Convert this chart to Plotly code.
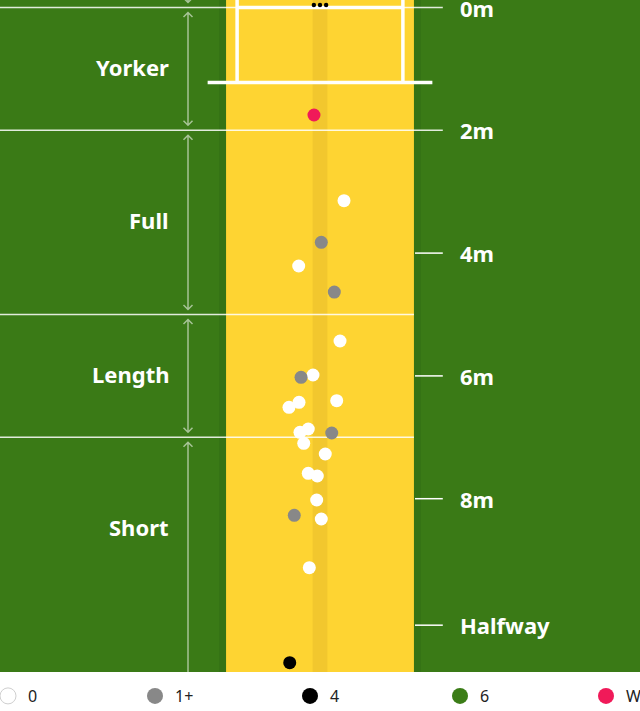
import plotly.graph_objects as go

# ---------------- data (metres: x = lateral from middle stump, y = distance from stumps)
white_x = [0.391, -0.347, 0.326, -0.114, 0.272, -0.342, -0.505, -0.191, -0.326, -0.265,
           0.086, -0.191, -0.044, -0.054, 0.021, -0.174]
white_y = [3.146, 4.210, 5.432, 5.985, 6.404, 6.430, 6.511, 6.865, 6.919, 7.098,
           7.272, 7.586, 7.630, 8.021, 8.331, 9.124]
grey_x = [0.021, 0.233, -0.309, 0.191, -0.419]
grey_y = [3.824, 4.634, 6.023, 6.930, 8.270]
four_x = [-0.493]
four_y = [10.671]
six_x = []
six_y = []
wkt_x = [-0.098]
wkt_y = [1.751]

tick_vals = [0, 2, 4, 6, 8, 10.06]
tick_text = ["0m", "2m", "4m", "6m", "8m", "Halfway"]
zone_names = ["Yorker", "Full", "Length", "Short"]
zone_bounds = [0, 2, 5, 7, 11.5]

legend_names = ["0", "1+", "4", "6", "W"]
legend_colors = ["#ffffff", "#888888", "#000000", "#3b7d17", "#f01a59"]

# ---------------- styling / geometry
GREEN = "#3a7a16"
YELLOW = "#fed432"
STRIP = "#f2c72e"
PX = 61.4  # px per metre
XR = [-320 / PX, 320 / PX]
YR = [(672 - 7.5) / PX, -7.5 / PX]

fig = go.Figure()

series = [(white_x, white_y), (grey_x, grey_y), (four_x, four_y), (six_x, six_y), (wkt_x, wkt_y)]
for (xs, ys), name, col in zip(series, legend_names, legend_colors):
    fig.add_trace(go.Scatter(x=xs, y=ys, mode="markers", showlegend=False, hoverinfo="skip",
                             marker=dict(size=13, color=col, line=dict(width=0))))

# legend-only entries, one legend each so they can be spaced evenly
leg_px = [8, 155, 310, 460, 606]
for i, (name, col) in enumerate(zip(legend_names, legend_colors)):
    lid = "legend" if i == 0 else f"legend{i+1}"
    fig.add_trace(go.Scatter(x=[None], y=[None], mode="markers", name=name, legend=lid,
                             marker=dict(size=16, color=col,
                                         line=dict(width=1 if i == 0 else 0, color="#cfcfcf"))))

shapes = []
def rect(x0, x1, y0, y1, color):
    shapes.append(dict(type="rect", xref="x", yref="y", x0=x0, x1=x1, y0=y0, y1=y1,
                       fillcolor=color, line=dict(width=0), layer="below"))
def line(x0, x1, y0, y1, color="rgba(255,255,255,0.85)", w=1.5):
    shapes.append(dict(type="line", xref="x", yref="y", x0=x0, x1=x1, y0=y0, y1=y1,
                       line=dict(color=color, width=w), layer="below"))

# pitch
rect(-1.645, -1.53, -2, 12, "#357315")
rect(1.53, 1.645, -2, 12, "#357315")
rect(-1.53, 1.53, -2, 12, YELLOW)
rect(-0.12, 0.12, -2, 12, STRIP)

# horizontal reference lines
line(-6, 2.0, 0, 0)
line(-6, 2.0, 2, 2)
line(-6, 1.53, 5, 5)
line(-6, 1.53, 7, 7)
for t in tick_vals[2:]:
    line(1.547, 2.0, t, t, color="#ffffff", w=1.5)

# creases
line(-1.35, 1.35, 0, 0, color="#ffffff", w=3.5)
line(-1.35, -1.35, -1, 1.22, color="#ffffff", w=3.5)
line(1.35, 1.35, -1, 1.22, color="#ffffff", w=3.5)
line(-1.83, 1.83, 1.22, 1.22, color="#ffffff", w=3.5)

# stumps
r = 2.2 / PX
for sx in [-0.1, 0.0, 0.1]:
    shapes.append(dict(type="circle", xref="x", yref="y", x0=sx - r, x1=sx + r,
                       y0=-0.04 - r, y1=-0.04 + r, fillcolor="#000000",
                       line=dict(width=0), layer="above"))

# zone arrows
AX = (188 - 320) / PX
gap = 5 / PX
hw = 4.5 / PX
ARW = "rgba(255,255,255,0.55)"
def arrow(y_top, y_bot, top_head=True, bot_head=True):
    a, b = y_top + gap, y_bot - gap
    path = f"M {AX} {a} L {AX} {b}"
    if top_head:
        path += f" M {AX-hw} {a+hw} L {AX} {a} L {AX+hw} {a+hw}"
    if bot_head:
        path += f" M {AX-hw} {b-hw} L {AX} {b} L {AX+hw} {b-hw}"
    shapes.append(dict(type="path", xref="x", yref="y", path=path,
                       line=dict(color=ARW, width=1.5), layer="below"))

arrow(-1.0, 0, top_head=False)
for i in range(4):
    arrow(zone_bounds[i], zone_bounds[i + 1], bot_head=(i < 3))

annotations = []
LBL_X = (171 - 320) / PX
zone_y = [1.0, 3.48, 6.0, 8.48]
for name, zy in zip(zone_names, zone_y):
    annotations.append(dict(x=LBL_X, y=zy, xref="x", yref="y", text=f"<b>{name}</b>",
                            showarrow=False, xanchor="right", yanchor="middle", yshift=1.5,
                            font=dict(size=22, color="#ffffff", family="Noto Sans")))
TX = (458 - 320) / PX
for t, txt in zip(tick_vals, tick_text):
    annotations.append(dict(x=TX, y=t, xref="x", yref="y", text=f"<b>{txt}</b>",
                            showarrow=False, xanchor="left", yanchor="middle",
                            font=dict(size=22, color="#ffffff", family="Noto Sans")))

layout = dict(
    width=640, height=711,
    margin=dict(l=0, r=0, t=0, b=39, autoexpand=False),
    paper_bgcolor="#ffffff", plot_bgcolor=GREEN,
    xaxis=dict(range=XR, visible=False, showgrid=False, zeroline=False, fixedrange=True),
    yaxis=dict(range=YR, visible=False, showgrid=False, zeroline=False, fixedrange=True),
    shapes=shapes, annotations=annotations,
    font=dict(family="Noto Sans", color="#222222", size=16),
)
for i, px in enumerate(leg_px):
    lid = "legend" if i == 0 else f"legend{i+1}"
    layout[lid] = dict(x=(px - 20) / 640, y=-24 / 672, xanchor="left", yanchor="middle",
                       orientation="h", bgcolor="rgba(0,0,0,0)", borderwidth=0,
                       font=dict(size=16, color="#222222", family="Noto Sans"),
                       itemsizing="trace")
fig.update_layout(**layout)
fig.write_html("out.html", config={"displayModeBar": False},
               post_script="document.body.style.margin='0';")
